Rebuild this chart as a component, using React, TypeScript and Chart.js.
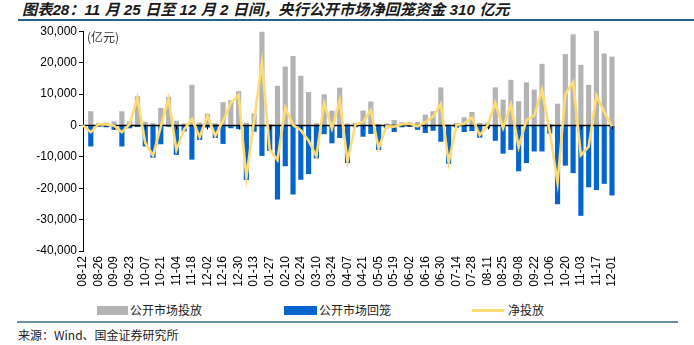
import React, { useEffect, useRef } from "react";
import { Chart, registerables } from "chart.js";

Chart.register(...registerables);

// Tick labels shown on the x axis (every second week)
const tickLabels = [
  "08-12", "08-26", "09-09", "09-23", "10-07", "10-21", "11-04", "11-18", "12-02",
  "12-16", "12-30", "01-13", "01-27", "02-10", "02-24", "03-10", "03-24", "04-07",
  "04-21", "05-05", "05-19", "06-02", "06-16", "06-30", "07-14", "07-28", "08-11",
  "08-25", "09-08", "09-22", "10-06", "10-20", "11-03", "11-17", "12-01",
];

// 公开市场投放 (亿元), weekly
const injection = [
  0, 4400, 700, 800, 1200, 4400, 1200, 9200, 1000, 600,
  5500, 9000, 1400, 500, 12800, 800, 3600, 600, 7300, 7900,
  10800, 700, 3700, 29700, 300, 12500, 18600, 22000, 15700, 10500,
  600, 9800, 4600, 11900, 500, 700, 4600, 7500, 400, 500,
  1600, 900, 900, 1000, 3300, 4400, 12000, 200, 700, 2500,
  4200, 700, 800, 12000, 8100, 14400, 7600, 13600, 11300, 19500,
  500, 6800, 22600, 28900, 19200, 12800, 30000, 22800, 21800,
];

// 公开市场回笼 (亿元), weekly
const withdrawal = [
  0, -6600, -300, -500, -1300, -6600, -800, -400, -6600, -10200,
  -5900, -300, -9300, -1800, -10800, -4500, -600, -3900, -5800, -800,
  -1100, -17300, -1900, -9600, -8000, -23500, -12900, -21900, -17200, -15400,
  -10400, -2700, -5600, -3900, -11900, -500, -3500, -2600, -7700, -800,
  -2000, -500, -400, -1300, -2300, -1600, -5100, -12100, -600, -2000,
  -1700, -3800, -800, -4800, -8900, -7700, -14500, -11900, -8200, -8200,
  -2500, -25000, -12700, -15100, -28700, -19600, -20500, -18500, -22200,
];

// 净投放 (亿元), weekly
const netInjection = [
  0, -2200, 400, 300, -100, -2200, 400, 8800, -5600, -9600,
  -400, 8700, -7900, -1300, 2000, -3700, 3000, -3300, 1500, 7100,
  9700, -16600, 1800, 20100, -7700, -11000, 5700, 100, -1500, -4900,
  -9800, 7100, -1000, 8000, -11400, 200, 1100, 4900, -7300, -300,
  -400, 400, 500, -300, 1000, 2800, 6900, -11900, 100, 500,
  2500, -3100, 0, 7200, -800, 6700, -6900, 1700, 3100, 11300,
  -2000, -18200, 9900, 13800, -9500, -6800, 9500, 4300, -310,
];

const categories = injection.map((_, i) => (i % 2 === 0 ? tickLabels[i / 2] : ""));

const GRAY = "#b3b3b3";
const BLUE = "#0565cc";
const YELLOW = "#ffdc73";

const zeroLinePlugin = {
  id: "zeroLine",
  beforeDatasetDraw(chart: any, args: any) {
    if (args.index !== 2) return;
    const { ctx, chartArea, scales } = chart;
    const y = scales.y.getPixelForValue(0);
    ctx.save();
    ctx.strokeStyle = "#000";
    ctx.lineWidth = 1.5;
    ctx.beginPath();
    ctx.moveTo(chartArea.left, y);
    ctx.lineTo(chartArea.right, y);
    ctx.stroke();
    ctx.lineWidth = 1;
    ctx.beginPath();
    for (let i = 0; i < categories.length; i += 4) {
      const x = Math.round(scales.x.getPixelForValue(i)) + 0.5;
      ctx.moveTo(x, y);
      ctx.lineTo(x, y + 4);
    }
    ctx.stroke();
    ctx.restore();
  },
};

function ChartBox() {
  const ref = useRef<HTMLCanvasElement | null>(null);
  useEffect(() => {
    if (!ref.current) return;
    const font = "'Liberation Sans', Arial, sans-serif";
    const chart = new Chart(ref.current, {
      type: "bar",
      data: {
        labels: categories,
        datasets: [
          {
            type: "bar",
            label: "公开市场投放",
            data: injection,
            backgroundColor: GRAY,
            barThickness: 4.5,
            grouped: false,
            clip: false as any,
            order: 1,
          },
          {
            type: "bar",
            label: "公开市场回笼",
            data: withdrawal,
            backgroundColor: BLUE,
            barThickness: 4.5,
            grouped: false,
            clip: false as any,
            order: 1,
          },
          {
            type: "line",
            label: "净投放",
            data: netInjection,
            borderColor: YELLOW,
            borderWidth: 2.6,
            pointRadius: 0,
            tension: 0,
            fill: false,
            clip: false as any,
            order: 0,
          },
        ],
      } as any,
      options: {
        animation: false,
        responsive: true,
        maintainAspectRatio: false,
        layout: { padding: { left: 0, right: 82, top: 7, bottom: 0 } },
        plugins: { legend: { display: false }, tooltip: { enabled: false } },
        scales: {
          x: {
            offset: false,
            grid: { display: false, drawTicks: false },
            border: { display: false },
            ticks: {
              autoSkip: false,
              maxRotation: 90,
              minRotation: 90,
              padding: 5,
              color: "#000",
              font: { family: font, size: 12 },
              callback: (_v: any, i: number) => categories[i],
            },
            afterFit: (scale: any) => {
              scale.height = 46;
            },
          },
          y: {
            min: -40000,
            max: 30000,
            grid: {
              drawOnChartArea: false,
              drawTicks: true,
              tickLength: 4,
              color: "#000",
            },
            border: { display: true, color: "#000", width: 1 },
            ticks: {
              stepSize: 10000,
              padding: 2,
              color: "#000",
              font: { family: font, size: 12 },
              callback: (v: any) => Number(v).toLocaleString("en-US"),
            },
            afterFit: (scale: any) => {
              scale.width = 83;
            },
          },
        },
      } as any,
      plugins: [zeroLinePlugin],
    });
    return () => chart.destroy();
  }, []);
  return (
    <div style={{ position: "absolute", left: 0, top: 22, width: 694, height: 275 }}>
      <canvas ref={ref} />
    </div>
  );
}

export default function App() {
  useEffect(() => {
    document.body.style.margin = "0";
  }, []);
  const cjk = "'Liberation Sans', 'Noto Sans CJK SC', sans-serif";
  const legendText: React.CSSProperties = {
    position: "absolute",
    top: 302,
    fontFamily: "'Noto Sans CJK SC', sans-serif",
    fontSize: 12,
    lineHeight: "16px",
    color: "#222",
    whiteSpace: "nowrap",
  };
  return (
    <div
      style={{
        position: "absolute",
        left: 0,
        top: 0,
        width: 694,
        height: 345,
        overflow: "hidden",
        background: "#fff",
      }}
    >
      <div
        style={{
          position: "absolute",
          left: 22,
          top: 0,
          fontFamily: cjk,
          fontSize: 15.2,
          fontWeight: "bold",
          fontStyle: "italic",
          lineHeight: "19px",
          color: "#1a1a1a",
          whiteSpace: "nowrap",
        }}
      >
        图表28：11 月 25 日至 12 月 2 日间，央行公开市场净回笼资金 310 亿元
      </div>
      <div style={{ position: "absolute", left: 18, top: 19, width: 676, height: 2, background: "#23608f" }} />
      <ChartBox />
      <div
        style={{
          position: "absolute",
          left: 87,
          top: 29,
          fontFamily: "'Noto Sans CJK SC', sans-serif",
          fontSize: 12,
          lineHeight: "15px",
          color: "#333",
        }}
      >
        (亿元)
      </div>
      <div style={{ position: "absolute", left: 97, top: 306, width: 31, height: 9, background: GRAY }} />
      <div style={{ ...legendText, left: 130 }}>公开市场投放</div>
      <div style={{ position: "absolute", left: 284, top: 306, width: 33, height: 9, background: BLUE }} />
      <div style={{ ...legendText, left: 319 }}>公开市场回笼</div>
      <div style={{ position: "absolute", left: 472, top: 309, width: 32, height: 2.5, background: YELLOW }} />
      <div style={{ ...legendText, left: 508 }}>净投放</div>
      <div style={{ position: "absolute", left: 17, top: 321, width: 661, height: 2, background: "#6a8ea3" }} />
      <div
        style={{
          position: "absolute",
          left: 18,
          top: 327,
          fontFamily: "'Noto Sans CJK SC', sans-serif",
          fontSize: 12,
          lineHeight: "15px",
          color: "#222",
          whiteSpace: "nowrap",
        }}
      >
        来源：Wind、国金证券研究所
      </div>
    </div>
  );
}
